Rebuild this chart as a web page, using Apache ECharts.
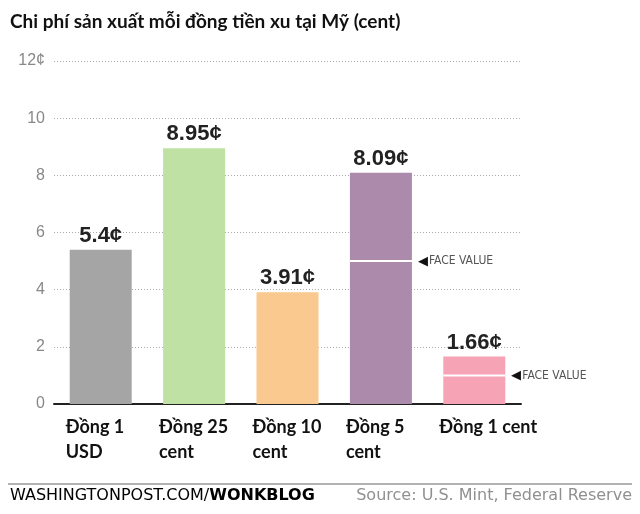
<!DOCTYPE html>
<html><head><meta charset="utf-8">
<script src="https://cdn.jsdelivr.net/npm/echarts@6/dist/echarts.min.js"></script>
<style>html,body{margin:0;padding:0;background:#fff}#c{width:640px;height:514px}</style>
</head><body><div id="c"></div>
<script>
const categories = ['Đồng 1\nUSD', 'Đồng 25\ncent', 'Đồng 10\ncent', 'Đồng 5\ncent', 'Đồng 1 cent'];
const costs = [5.4, 8.95, 3.91, 8.09, 1.66];
const faceValues = ['-', '-', '-', 5, 1];
const colors = ['#a5a5a5', '#bfe1a3', '#f9c98f', '#ab8aab', '#f5a3b5'];
const yTicks = [0, 2, 4, 6, 8, 10, 12];

const chart = echarts.init(document.getElementById('c'), null, {renderer: 'canvas'});
chart.setOption({
  backgroundColor: '#fff',
  animation: false,
  title: {
    text: 'Chi phí sản xuất mỗi đồng tiền xu tại Mỹ (cent)',
    left: 5, top: 7,
    textStyle: {fontFamily: 'Lato', fontWeight: 'bold', fontSize: 19, color: '#111'}
  },
  grid: {left: 54, right: 119, top: 61, bottom: 110},
  xAxis: {
    type: 'category',
    data: categories,
    axisLine: {show: true, lineStyle: {color: '#222', width: 2}},
    axisTick: {show: false},
    axisLabel: {
      interval: 0, margin: 11,
      formatter: v => '{a|' + v.split('\n').join('}\n{a|') + '}',
      rich: {a: {width: 70, align: 'left', fontFamily: 'Lato', fontWeight: 'bold', fontSize: 18, color: '#111', lineHeight: 25}}
    }
  },
  yAxis: {
    type: 'value', min: 0, max: 12, interval: 2,
    axisLine: {show: false}, axisTick: {show: false},
    axisLabel: {
      margin: 9, color: '#888', fontFamily: 'Liberation Sans', fontSize: 16,
      formatter: v => v === yTicks[yTicks.length - 1] ? v + '¢' : String(v)
    },
    splitLine: {lineStyle: {color: '#aaa', type: [1, 2], width: 1}}
  },
  series: [{
    type: 'bar',
    data: costs.map((v, i) => ({value: v, itemStyle: {color: colors[i]}})),
    barWidth: 62,
    label: {
      show: true, position: 'top', distance: 3,
      formatter: p => p.value + '¢',
      fontFamily: 'Liberation Sans', fontWeight: 'bold', fontSize: 22, color: '#222'
    }
  }, {
    type: 'scatter',
    data: faceValues,
    symbol: 'rect',
    symbolSize: [62, 2],
    itemStyle: {color: '#fff', opacity: 1},
    label: {
      show: true, position: 'right', distance: 6,
      formatter: '{t|◀}{f|FACE VALUE}',
      rich: {
        t: {fontSize: 13, color: '#111', padding: [0, 1, 0, 0]},
        f: {fontFamily: 'DejaVu Sans Condensed', fontSize: 12, color: '#555'}
      }
    },
    z: 5
  }],
  graphic: [
    {type: 'line', shape: {x1: 8, y1: 484, x2: 632, y2: 484}, style: {stroke: '#999', lineWidth: 1.5}},
    {type: 'text', left: 10, top: 488, style: {
      text: '{n|WASHINGTONPOST.COM/}{b|WONKBLOG}',
      rich: {
        n: {fontFamily: 'DejaVu Sans', fontSize: 16, color: '#909090'},
        b: {fontFamily: 'DejaVu Sans', fontSize: 16, fontWeight: 'bold', color: '#777'}
      }
    }},
    {type: 'text', right: 8, top: 488, style: {
      text: 'Source: U.S. Mint, Federal Reserve',
      fontFamily: 'DejaVu Sans', fontSize: 16, fill: '#909090'
    }}
  ]
});
</script>
</body></html>
